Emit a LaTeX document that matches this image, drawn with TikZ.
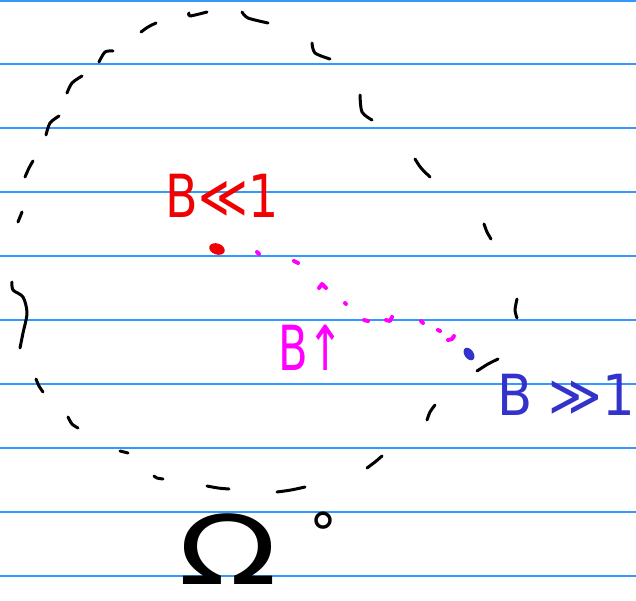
\documentclass[tikz,border=0pt]{standalone}
\usepackage{fontspec}
\setmainfont{DejaVu Sans}
\definecolor{ruleblue}{RGB}{51,153,255}
\definecolor{inkred}{RGB}{240,0,0}
\definecolor{inkmag}{RGB}{255,0,255}
\definecolor{inkblue}{RGB}{51,51,204}
\tikzset{
  rule/.style={draw=ruleblue, line width=1.4pt},
  arcdash/.style={draw=black, line width=3pt, line cap=round, line join=round},
  magdot/.style={draw=inkmag, line width=4pt, line cap=round, line join=round},
  inktext/.style={inner sep=0pt, font=\fontsize{54}{60}\selectfont},
  pointmark/.style={inner sep=0pt, minimum size=1pt},
}
\begin{document}
\begin{tikzpicture}[x=1pt,y=-1pt]
\useasboundingbox (0,0) rectangle (636,600);
% ruled paper
\foreach \yy in {1,64,128,192,256,320,384,448,512,576}
  \draw[rule] (0,\yy) -- (636,\yy);
% dashed circle (hand drawn)
\draw[arcdash] plot[smooth] coordinates {(189,13) (190,16) (207,12)};
\draw[arcdash] plot[smooth] coordinates {(242,12) (248,18) (268,23)};
\draw[arcdash] plot[smooth] coordinates {(312,43) (315,53) (330,59)};
\draw[arcdash] plot[smooth] coordinates {(360,95) (362,112) (372,120)};
\draw[arcdash] plot[smooth] coordinates {(415,159) (421,168) (430,177)};
\draw[arcdash] plot[smooth] coordinates {(484,224) (487,232) (491,239)};
\draw[arcdash] plot[smooth] coordinates {(517,299) (515,310) (517,318)};
\draw[arcdash] plot[smooth] coordinates {(477,371) (488,364) (498,359)};
\draw[arcdash] plot[smooth] coordinates {(427,420) (430,412) (435,405)};
\draw[arcdash] plot[smooth] coordinates {(367,468) (375,462) (382,456)};
\draw[arcdash] plot[smooth] coordinates {(277,492) (291,490) (305,487)};
\draw[arcdash] plot[smooth] coordinates {(207,486) (218,488) (229,489)};
\draw[arcdash] plot[smooth] coordinates {(154,476) (157,478) (163,479)};
\draw[arcdash] plot[smooth] coordinates {(120,451) (128,453)};
\draw[arcdash] plot[smooth] coordinates {(68,417) (72,424) (78,428)};
\draw[arcdash] plot[smooth] coordinates {(36,379) (39,386) (43,392)};
\draw[arcdash] plot[smooth] coordinates {(12,282) (13,290) (23,297) (27,313) (23,333) (20,348)};
\draw[arcdash] plot[smooth] coordinates {(18,222) (22,212)};
\draw[arcdash] plot[smooth] coordinates {(25,177) (29,168) (33,161)};
\draw[arcdash] plot[smooth] coordinates {(46,135) (50,123) (59,116)};
\draw[arcdash] plot[smooth] coordinates {(67,93) (72,83) (82,76)};
\draw[arcdash] plot[smooth] coordinates {(99,62) (105,52) (113,51)};
\draw[arcdash] plot[smooth] coordinates {(141,32) (148,27) (156,23)};
% points
\node (red) [pointmark] at (217,249) {};
\fill[inkred, rotate around={-20:(red)}] (red) ellipse [x radius=8, y radius=5.5];
\node (blue) [pointmark] at (469,354) {};
\fill[inkblue, rotate around={35:(blue)}] (blue) ellipse [x radius=4.5, y radius=7];
% magenta dotted path
\draw[magdot] (257,252) -- (259,254);
\draw[magdot] (294,261) -- (298,263);
\draw[magdot] (319,288) -- (322,284) -- (326,288);
\draw[magdot] (345,303) -- (346,304);
\draw[magdot] (364,320) -- (368,321);
\draw[magdot] (386,320) -- (390,321) -- (392,317);
\draw[magdot] (421,321) -- (423,323);
\draw[magdot] (438,330) -- (440,331);
\draw[magdot] (448,340) -- (452,339) -- (454,336);
% labels
\node[inktext, text=inkred] (lsmall) at (222,196) {\scalebox{0.88}[1.1]{B≪1}};
\node[inktext, text=inkmag] (lmid) at (311,348) {\scalebox{0.8}[1.15]{B↑}};
\node[inktext, text=inkblue] (lbig) at (566,395) {\scalebox{0.95}[1.05]{B ≫1}};
\node[inner sep=0pt, font=\fontsize{96}{100}\selectfont] (omega) at (228,549) {\scalebox{1.35}[1]{Ω}};
\node[inner sep=0pt, font=\fontsize{56}{60}\selectfont] (deg) at (323,533) {°};
\end{tikzpicture}
\end{document}
